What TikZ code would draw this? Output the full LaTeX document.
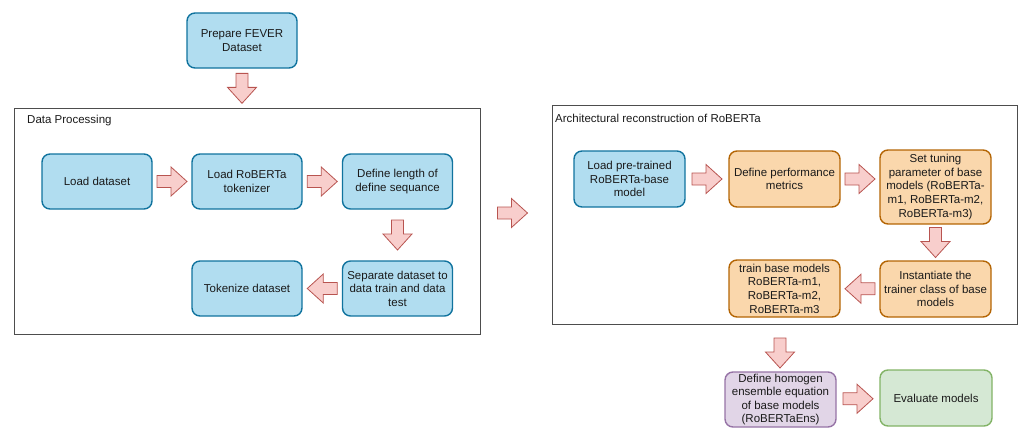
\documentclass[tikz,border=0pt]{standalone}
\usepackage{fontspec}
\setmainfont{Liberation Sans}
\usetikzlibrary{calc}
\definecolor{bluefill}{HTML}{B1DDF0}
\definecolor{blueline}{HTML}{10739E}
\definecolor{orfill}{HTML}{FAD7AC}
\definecolor{orline}{HTML}{B46504}
\definecolor{pufill}{HTML}{E1D5E7}
\definecolor{puline}{HTML}{9673A6}
\definecolor{grfill}{HTML}{D5E8D4}
\definecolor{grline}{HTML}{82B366}
\definecolor{arfill}{HTML}{F8CECC}
\definecolor{arline}{HTML}{B85450}
\definecolor{frameline}{HTML}{4D4D4D}
\definecolor{txt}{HTML}{1A1A1A}
\tikzset{
  box/.style={rounded corners=8pt, line width=1.4pt, align=center, inner sep=1pt,
    minimum width=110pt, minimum height=55pt, text=txt,
    font=\fontsize{11.5}{13.6}\selectfont},
  bluebox/.style={box, draw=blueline, fill=bluefill},
  orbox/.style={box, draw=orline, fill=orfill},
  pubox/.style={box, draw=puline, fill=pufill},
  grbox/.style={box, draw=grline, fill=grfill},
  framebox/.style={draw=frameline, line width=1pt},
  framelabel/.style={anchor=west, inner sep=0pt, text=txt, font=\fontsize{11.5}{13.6}\selectfont},
  arrowsty/.style={draw=arline, fill=arfill, line width=0.8pt, line join=miter},
  fatarrow/.pic={\draw[arrowsty] (-15,-6) -- (-1,-6) -- (-1,-14.5) -- (15,0) -- (-1,14.5) -- (-1,6) -- (-15,6) -- cycle;}
}
\begin{document}
\begin{tikzpicture}[x=1pt,y=-1pt]
\useasboundingbox (0,0) rectangle (1019,428);
% frames
\draw[framebox] (14,108) rectangle (480,334);
\node[framelabel] (dplabel) at (27,121) {Data Processing};
\draw[framebox] (552,105) rectangle (1017,324);
\node[framelabel] (arlabel) at (555,118) {Architectural reconstruction of RoBERTa};
% nodes
\node[bluebox] (fever) at (242,40.5) {Prepare FEVER\\Dataset};
\node[bluebox] (load) at (97,181.5) {Load dataset};
\node[bluebox] (tok) at (247,181.5) {Load RoBERTa\\tokenizer};
\node[bluebox] (deflen) at (397.5,181.5) {Define length of\\define sequance};
\node[bluebox] (sep) at (397.5,288.5) {Separate dataset to\\data train and data\\test};
\node[bluebox] (tokds) at (247,288.5) {Tokenize dataset};
\node[bluebox, minimum width=111pt, minimum height=56pt] (pre) at (629.5,179) {Load pre-trained\\RoBERTa-base\\model};
\node[orbox, minimum width=111pt, minimum height=56pt] (perf) at (784.5,179) {Define performance\\metrics};
\node[orbox, minimum width=111pt, minimum height=74pt] (tune) at (935.5,187) {Set tuning\\parameter of base\\models (RoBERTa-\\m1, RoBERTa-m2,\\RoBERTa-m3)};
\node[orbox, minimum width=111pt, minimum height=56pt] (inst) at (935.5,289) {Instantiate the\\trainer class of base\\models};
\node[orbox, minimum width=111pt, minimum height=57pt] (train) at (784.5,288.5) {train base models\\RoBERTa-m1,\\RoBERTa-m2,\\RoBERTa-m3};
\node[pubox, minimum width=111pt, minimum height=55pt] (homo) at (780.5,399.5) {Define homogen\\ensemble equation\\of base models\\(RoBERTaEns)};
\node[grbox, minimum width=112pt, minimum height=56pt] (eval) at (936,398) {Evaluate models};
% block arrows
\pic[rotate=-90] at ($(fever.south)!0.5!(242,108)$) {fatarrow};
\pic at ($(load.east)!0.5!(tok.west)$) {fatarrow};
\pic at ($(tok.east)!0.5!(deflen.west)$) {fatarrow};
\pic[rotate=-90] at ($(deflen.south)!0.5!(sep.north)$) {fatarrow};
\pic[rotate=180] at ($(sep.west)!0.5!(tokds.east)$) {fatarrow};
\pic at (512.5,213) {fatarrow};
\pic at ($(pre.east)!0.5!(perf.west)$) {fatarrow};
\pic at ($(perf.east)!0.5!(tune.west)+(0,-4)$) {fatarrow};
\pic[rotate=-90] at ($(tune.south)!0.5!(inst.north)$) {fatarrow};
\pic[rotate=180] at ($(inst.west)!0.5!(train.east)$) {fatarrow};
\pic[rotate=-90] at (780,353) {fatarrow};
\pic at ($(homo.east)!0.5!(eval.west)$) {fatarrow};
\end{tikzpicture}
\end{document}
